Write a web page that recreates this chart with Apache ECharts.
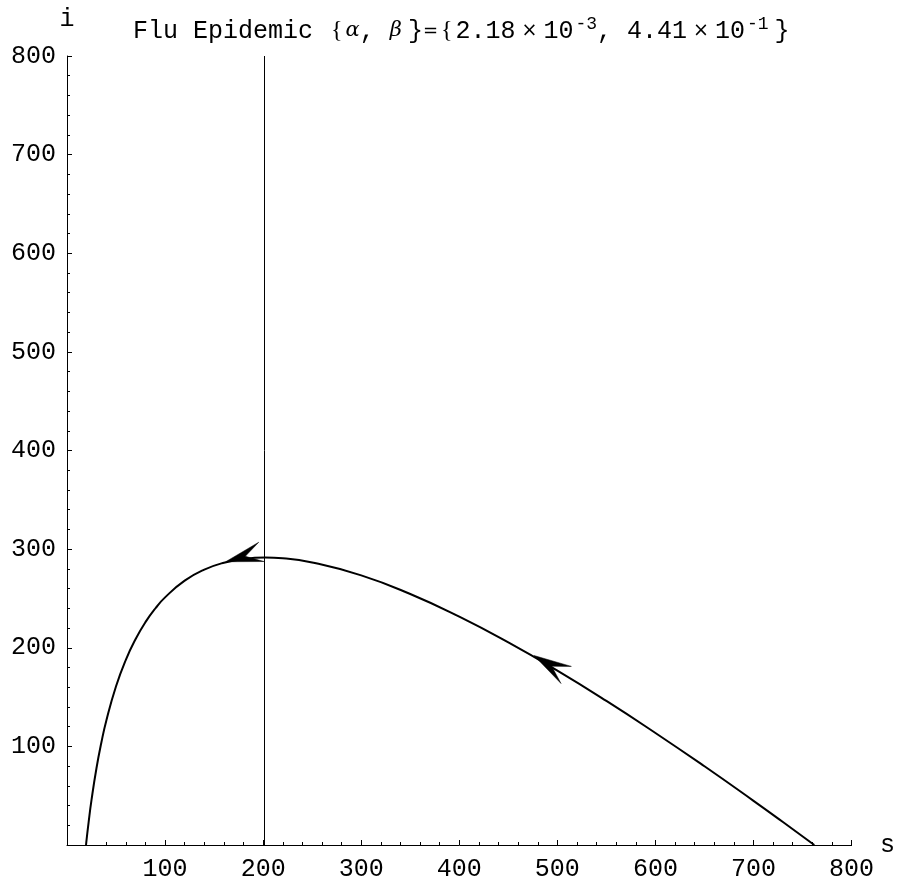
<!DOCTYPE html>
<html>
<head>
<meta charset="utf-8">
<script src="https://cdn.jsdelivr.net/npm/echarts@6/dist/echarts.min.js"></script>
<style>
html,body{margin:0;padding:0;background:#fff;}
#chart{width:898px;height:882px;}
</style>
</head>
<body>
<div id="chart"></div>
<script>
// Phase trajectory (s, i)
var sValues = [19.4, 20, 22, 25, 30, 35, 40, 50, 60, 70, 80, 90, 100, 120, 140, 160, 180, 202, 220, 250, 300, 350, 400, 450, 500, 550, 600, 650, 700, 730, 762];
var iValues = [0, 5.6, 22.8, 45.7, 77.6, 103.7, 125.8, 160.9, 187.8, 208.9, 226.0, 239.8, 251.1, 268.0, 279.2, 286.2, 290.0, 291.4, 290.7, 286.5, 273.4, 254.5, 231.5, 205.4, 176.8, 146.1, 113.6, 79.8, 44.8, 23.3, 0];
// Threshold line s = beta/alpha
var alphaParam = 2.18e-3;
var betaParam = 4.41e-1;
var threshold = 201;
// Arrowheads: tip (s,i) and tail centre (s,i)
var arrowTips = [[161.8, 287.2], [476.2, 192.1]];
var arrowTails = [[198.2, 297.2], [509.0, 172.4]];
// Axis ticks
var xTicks = [0, 100, 200, 300, 400, 500, 600, 700, 800];
var yTicks = [0, 100, 200, 300, 400, 500, 600, 700, 800];

var curve = sValues.map(function (s, k) { return [s, iValues[k]]; });
var arrowData = arrowTips.map(function (t, k) { return [t[0], t[1], arrowTails[k][0], arrowTails[k][1]]; });

var FONT = 'Liberation Mono';
var chart = echarts.init(document.getElementById('chart'));
chart.setOption({
  animation: false,
  backgroundColor: '#ffffff',
  title: {
    text: 'Flu Epidemic {b|{}{g|α}, {g|β}{b|}}{e|=}{b|{}2.18{x|×}10{sup|-3}, 4.41{x|×}10{sup|-1}{b|}}',
    left: 128,
    top: 10,
    textStyle: {
      fontFamily: FONT,
      fontSize: 25,
      fontWeight: 'normal',
      color: '#000',
      rich: {
        b: { fontFamily: 'Liberation Serif', fontSize: 24, padding: [0, 3, 0, 3], color: '#000' },
        e: { fontFamily: 'DejaVu Sans', fontSize: 18, color: '#000' },
        g: { fontFamily: 'DejaVu Serif', fontStyle: 'italic', fontSize: 21, color: '#000' },
        x: { fontFamily: 'DejaVu Sans', fontSize: 19, padding: [0, 6, 0, 6], color: '#000' },
        sup: { fontFamily: FONT, fontSize: 18, verticalAlign: 'top', padding: [0, 0, 14, 2], color: '#000' }
      }
    }
  },
  grid: { left: 67, right: 40, top: 56, bottom: 35, containLabel: false },
  xAxis: {
    type: 'value',
    min: xTicks[0],
    max: xTicks[xTicks.length - 1],
    interval: 100,
    name: 's',
    nameLocation: 'end',
    nameGap: 28,
    nameTextStyle: { fontFamily: FONT, fontSize: 25, color: '#000', verticalAlign: 'middle' },
    axisLine: { show: true, onZero: false, lineStyle: { color: '#000', width: 1 } },
    axisTick: { show: true, inside: true, length: 5, lineStyle: { color: '#000', width: 1 } },
    minorTick: { show: true, splitNumber: 5, length: 3, lineStyle: { color: '#000', width: 1 } },
    splitLine: { show: false },
    axisLabel: { showMinLabel: false, margin: 12, fontFamily: FONT, fontSize: 25, color: '#000' }
  },
  yAxis: {
    type: 'value',
    min: yTicks[0],
    max: yTicks[yTicks.length - 1],
    interval: 100,
    name: 'i',
    nameLocation: 'end',
    nameGap: 24,
    nameTextStyle: { fontFamily: FONT, fontSize: 25, color: '#000' },
    axisLine: { show: true, onZero: false, lineStyle: { color: '#000', width: 1 } },
    axisTick: { show: true, inside: true, length: 5, lineStyle: { color: '#000', width: 1 } },
    minorTick: { show: true, splitNumber: 5, length: 3, lineStyle: { color: '#000', width: 1 } },
    splitLine: { show: false },
    axisLabel: { showMinLabel: false, margin: 11, fontFamily: FONT, fontSize: 25, color: '#000' }
  },
  series: [
    {
      type: 'line',
      data: curve,
      showSymbol: false,
      smooth: true,
      lineStyle: { color: '#000', width: 2 },
      markLine: {
        silent: true,
        symbol: 'none',
        label: { show: false },
        lineStyle: { color: '#000', width: 1, type: 'solid' },
        data: [{ xAxis: threshold }]
      }
    },
    {
      type: 'custom',
      data: arrowData,
      renderItem: function (params, api) {
        var p0 = api.coord([api.value(0), api.value(1)]);
        var p1 = api.coord([api.value(2), api.value(3)]);
        var dx = p1[0] - p0[0], dy = p1[1] - p0[1];
        var L = Math.sqrt(dx * dx + dy * dy);
        var ux = dx / L, uy = dy / L;
        var nx = -uy, ny = ux;
        var w = 10;
        var b = [p0[0] + ux * L, p0[1] + uy * L];
        var pts = [
          p0,
          [b[0] + nx * w, b[1] + ny * w],
          [p0[0] + ux * L * 0.55, p0[1] + uy * L * 0.55],
          [b[0] - nx * w, b[1] - ny * w]
        ];
        return { type: 'polygon', shape: { points: pts }, style: { fill: '#000', stroke: '#000', lineWidth: 0.5 } };
      },
      z: 5
    }
  ]
});
</script>
</body>
</html>
